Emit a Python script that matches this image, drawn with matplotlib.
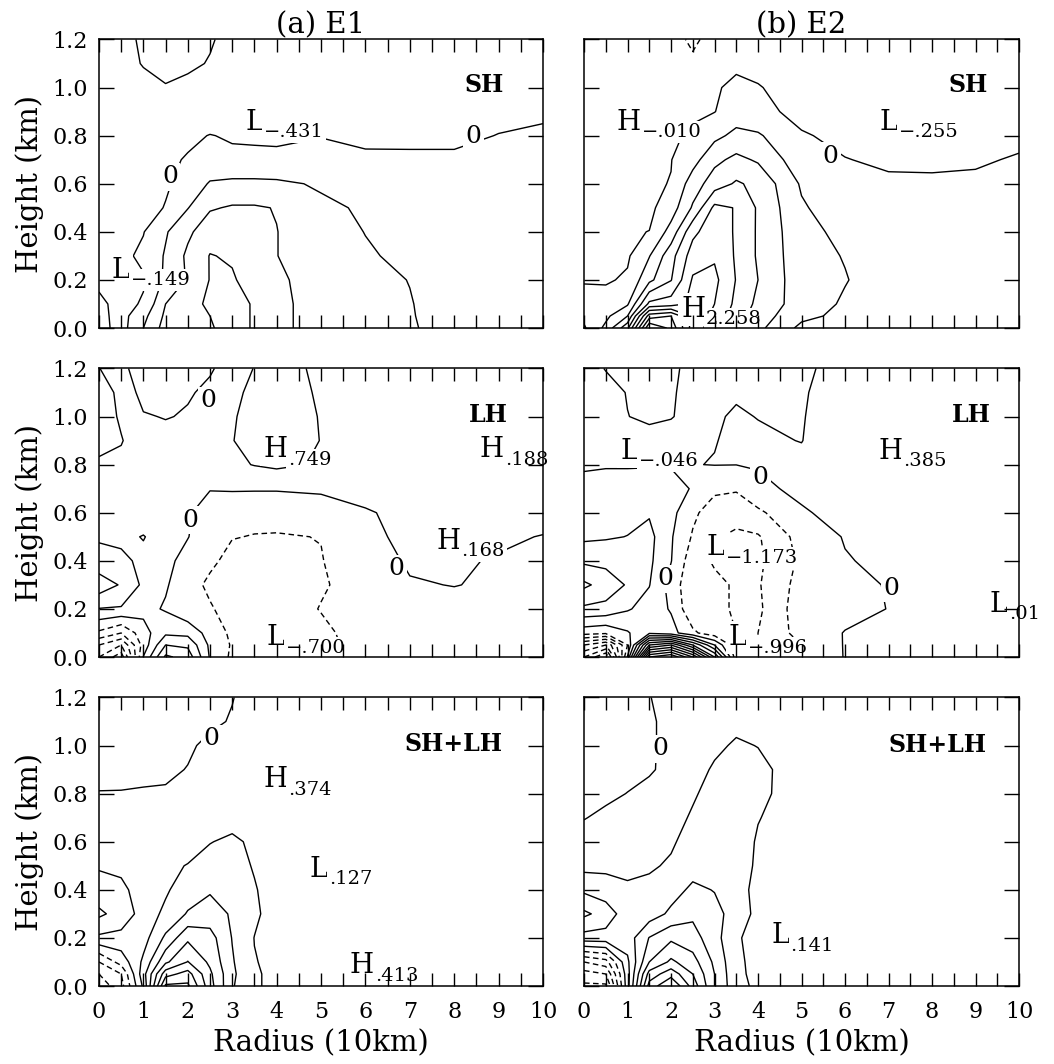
import numpy as np
import matplotlib.pyplot as plt

plt.rcParams['font.family'] = 'DejaVu Serif'

# grid of the model fields (radius in 10 km, height in km)
radius = [0, 0.5, 1, 1.5, 2, 2.5, 3, 3.5, 4, 5, 6, 7, 8, 9, 10]
height = [0, 0.05, 0.1, 0.2, 0.3, 0.4, 0.5, 0.6, 0.7, 0.8, 0.9, 1.0, 1.1, 1.2]

# (a) E1, sensible heating
e1_sh = [
    [0.2, -0.2, 0.5, 1.2, 1.35, 1.45, 1.7, 1.45, 1.15, 0.75, 0.6, 0.55, 0.3, 0.25, 0.2],
    [0.15, -0.18, 0.35, 1.1, 1.38, 1.5, 1.7, 1.45, 1.15, 0.75, 0.6, 0.53, 0.3, 0.25, 0.2],
    [0.1, -0.15, 0.05, 1.0, 1.4, 1.55, 1.7, 1.45, 1.15, 0.75, 0.6, 0.52, 0.3, 0.25, 0.2],
    [-0.1, -0.15, -0.05, 0.6, 1.05, 1.52, 1.55, 1.3, 1.1, 0.75, 0.62, 0.49, 0.3, 0.25, 0.2],
    [-0.2, -0.12, 0.1, 0.55, 1.1, 1.52, 1.45, 1.2, 1.01, 0.7, 0.55, 0.4, 0.3, 0.25, 0.2],
    [-0.25, -0.15, -0.02, 0.45, 0.9, 1.3, 1.3, 1.15, 1.01, 0.7, 0.49, 0.35, 0.28, 0.25, 0.22],
    [-0.3, -0.25, -0.15, 0.02, 0.48, 0.95, 1.05, 1.05, 0.98, 0.58, 0.45, 0.3, 0.25, 0.22, 0.2],
    [-0.35, -0.3, -0.25, -0.05, 0.15, 0.55, 0.6, 0.6, 0.58, 0.45, 0.35, 0.25, 0.2, 0.18, 0.2],
    [-0.38, -0.35, -0.3, -0.12, 0.05, 0.12, 0.12, 0.12, 0.12, 0.1, 0.08, 0.06, 0.06, 0.08, 0.1],
    [-0.35, -0.35, -0.32, -0.25, -0.12, 0.02, -0.06, -0.08, -0.1, -0.01, -0.1, -0.08, -0.08, 0.01, 0.05],
    [-0.3, -0.3, -0.3, -0.3, -0.32, -0.35, -0.4, -0.43, -0.42, -0.35, -0.3, -0.25, -0.2, -0.1, -0.05],
    [-0.25, -0.15, -0.1, -0.02, -0.08, -0.15, -0.35, -0.4, -0.4, -0.35, -0.3, -0.25, -0.2, -0.15, -0.1],
    [-0.2, -0.12, 0.02, 0.1, 0.06, -0.02, -0.2, -0.3, -0.3, -0.3, -0.25, -0.25, -0.2, -0.15, -0.1],
    [-0.2, -0.1, 0.05, 0.15, 0.12, 0.03, -0.1, -0.2, -0.25, -0.25, -0.25, -0.2, -0.2, -0.15, -0.1],
]

# (b) E2, sensible heating
e2_sh = [
    [-0.05, 0.5, 1.5, 4.0, 3.5, 2.2, 1.8, 1.3, 0.9, 0.3, 0.25, 0.15, 0.08, 0.06, 0.08],
    [0.1, 0.3, 0.8, 3.0, 3.2, 2.3, 1.9, 1.4, 1.0, 0.5, 0.3, 0.15, 0.08, 0.06, 0.08],
    [0.1, 0.15, 0.35, 1.7, 1.8, 2.1, 2.0, 1.5, 1.1, 0.6, 0.35, 0.15, 0.08, 0.06, 0.08],
    [-0.02, -0.04, 0.05, 0.7, 1.18, 2.05, 2.1, 1.58, 1.2, 0.55, 0.42, 0.2, 0.08, 0.06, 0.08],
    [-0.08, -0.05, -0.05, 0.38, 1.05, 1.8, 1.95, 1.55, 1.15, 0.55, 0.38, 0.15, 0.07, 0.06, 0.08],
    [-0.1, -0.08, -0.03, 0.005, 0.55, 1.5, 1.85, 1.55, 1.15, 0.52, 0.3, 0.12, 0.06, 0.06, 0.08],
    [-0.1, -0.08, -0.05, -0.08, 0.2, 0.85, 1.7, 1.58, 1.15, 0.45, 0.15, 0.08, 0.05, 0.06, 0.08],
    [-0.1, -0.08, -0.06, -0.04, 0.01, 0.6, 1.0, 1.25, 1.1, 0.35, 0.12, 0.05, 0.05, 0.06, 0.08],
    [-0.08, -0.07, -0.05, -0.03, -0.01, 0.25, 0.7, 0.9, 0.75, 0.15, 0.01, -0.05, -0.06, -0.04, 0.03],
    [-0.06, -0.05, -0.04, -0.03, -0.02, 0.02, 0.3, 0.5, 0.45, 0.03, -0.08, -0.15, -0.2, -0.18, -0.08],
    [-0.04, -0.03, -0.02, -0.015, -0.012, -0.02, -0.01, 0.2, 0.1, -0.1, -0.2, -0.25, -0.25, -0.22, -0.12],
    [-0.05, -0.05, -0.04, -0.03, -0.03, -0.06, -0.03, 0.06, 0.02, -0.15, -0.22, -0.25, -0.25, -0.2, -0.15],
    [-0.08, -0.08, -0.08, -0.08, -0.12, -0.3, -0.1, -0.05, -0.1, -0.2, -0.25, -0.25, -0.25, -0.2, -0.15],
    [-0.1, -0.1, -0.1, -0.1, -0.2, -0.5, -0.2, -0.15, -0.2, -0.25, -0.25, -0.25, -0.25, -0.2, -0.15],
]

# (a) E1, latent heating
e1_lh = [
    [-2.0, -2.8, 0.02, 1.6, 1.3, -0.05, -0.6, -0.7, -0.72, -0.65, -0.3, -0.15, -0.12, -0.12, -0.12],
    [-1.5, -2.0, -0.3, 1.0, 0.9, -0.1, -0.55, -0.7, -0.72, -0.65, -0.3, -0.15, -0.12, -0.12, -0.12],
    [-0.6, -1.0, -0.2, 0.4, 0.35, -0.2, -0.6, -0.75, -0.75, -0.6, -0.3, -0.15, -0.12, -0.12, -0.12],
    [0.48, 0.45, 0.15, -0.05, -0.4, -0.45, -0.7, -0.75, -0.75, -0.48, -0.3, -0.15, -0.12, -0.12, -0.12],
    [1.3, 0.95, 0.4, 0.05, -0.3, -0.6, -0.7, -0.72, -0.72, -0.55, -0.3, -0.03, 0.01, -0.05, -0.08],
    [0.65, 0.6, 0.4, 0.15, -0.2, -0.4, -0.65, -0.7, -0.7, -0.52, -0.2, 0.05, 0.03, -0.02, -0.05],
    [0.45, 0.4, 0.52, 0.3, 0.02, -0.35, -0.48, -0.52, -0.53, -0.49, -0.05, 0.05, 0.05, 0.04, -0.01],
    [0.25, 0.25, 0.25, 0.15, 0.05, -0.2, -0.3, -0.35, -0.35, -0.2, -0.02, 0.06, 0.07, 0.08, 0.1],
    [0.3, 0.3, 0.25, 0.2, 0.15, 0.02, 0.04, 0.04, 0.04, 0.06, 0.08, 0.1, 0.1, 0.12, 0.12],
    [0.45, 0.42, 0.3, 0.25, 0.25, 0.3, 0.4, 0.52, 0.6, 0.45, 0.25, 0.2, 0.15, 0.15, 0.16],
    [0.6, 0.52, 0.3, 0.2, 0.25, 0.3, 0.48, 0.72, 0.75, 0.49, 0.32, 0.25, 0.15, 0.18, 0.19],
    [0.7, 0.45, 0.05, -0.03, 0.05, 0.2, 0.45, 0.68, 0.72, 0.48, 0.3, 0.25, 0.25, 0.3, 0.35],
    [0.7, 0.4, -0.2, -0.15, -0.05, 0.1, 0.35, 0.65, 0.7, 0.45, 0.3, 0.3, 0.3, 0.3, 0.3],
    [0.52, 0.1, -0.2, -0.2, -0.15, -0.05, 0.2, 0.52, 0.6, 0.45, 0.3, 0.3, 0.3, 0.3, 0.3],
]

# (b) E2, latent heating
e2_lh = [
    [-3.0, -4.0, 0.05, 5.5, 6.0, 4.5, 2.0, -0.8, -1.0, -0.6, 0.03, 0.02, 0.02, 0.012, 0.01],
    [-2.0, -2.5, -0.5, 3.0, 3.5, 2.0, 0.5, -0.9, -1.0, -0.5, 0.03, 0.02, 0.02, 0.012, 0.01],
    [-0.3, -0.4, -0.05, 0.4, 0.2, -0.4, -0.8, -1.0, -1.0, -0.3, 0.02, 0.02, 0.02, 0.012, 0.01],
    [0.9, 0.85, 0.55, 0.3, -0.05, -0.9, -0.9, -1.05, -1.1, -0.2, -0.15, 0.01, 0.02, 0.012, 0.01],
    [1.6, 1.3, 0.95, 0.52, -0.2, -0.9, -0.9, -1.05, -1.05, -0.3, -0.1, 0.02, 0.05, 0.03, 0.01],
    [0.9, 0.85, 0.75, 0.6, 0.02, -0.8, -1.05, -1.17, -1.1, -0.4, -0.03, 0.1, 0.15, 0.15, 0.15],
    [0.4, 0.45, 0.51, 0.65, 0.05, -0.55, -0.95, -1.1, -1.05, -0.3, 0.03, 0.2, 0.25, 0.25, 0.25],
    [0.2, 0.3, 0.35, 0.45, 0.15, -0.4, -0.75, -0.8, -0.6, -0.05, 0.15, 0.25, 0.3, 0.3, 0.3],
    [0.05, 0.1, 0.15, 0.2, 0.1, -0.02, -0.4, -0.45, -0.1, 0.1, 0.25, 0.3, 0.35, 0.35, 0.3],
    [-0.02, -0.02, -0.03, -0.03, -0.02, -0.01, 0.01, 0.005, 0.03, 0.05, 0.2, 0.3, 0.38, 0.38, 0.3],
    [-0.05, -0.05, -0.046, -0.04, -0.04, -0.03, -0.01, 0.05, 0.03, -0.005, 0.15, 0.3, 0.38, 0.35, 0.3],
    [-0.05, -0.04, -0.002, 0.02, 0.005, -0.03, -0.02, 0.02, -0.005, -0.01, 0.1, 0.3, 0.35, 0.35, 0.3],
    [-0.05, -0.04, 0.005, 0.04, 0.01, -0.03, -0.04, -0.02, -0.03, -0.02, 0.1, 0.3, 0.35, 0.35, 0.3],
    [-0.05, 0.005, 0.05, 0.06, 0.02, -0.03, -0.04, -0.04, -0.04, -0.03, 0.06, 0.25, 0.3, 0.3, 0.3],
]

# (a) E1, SH+LH
e1_all = [
    [-1.8, -1.2, 0.6, 3.6, 3.6, 2.2, 1.05, 0.55, 0.4, 0.38, 0.413, 0.38, 0.3, 0.3, 0.3],
    [-1.5, -1.0, 0.8, 2.8, 3.2, 2.1, 1.1, 0.55, 0.4, 0.38, 0.41, 0.38, 0.3, 0.3, 0.3],
    [-1.0, -0.3, 0.6, 1.9, 2.52, 1.9, 1.05, 0.52, 0.4, 0.35, 0.4, 0.38, 0.3, 0.3, 0.3],
    [0.4, 0.35, 0.3, 1.1, 1.9, 1.7, 0.98, 0.49, 0.4, 0.35, 0.38, 0.35, 0.3, 0.3, 0.3],
    [1.1, 0.8, 0.3, 0.58, 1.05, 1.2, 0.95, 0.6, 0.25, 0.2, 0.25, 0.25, 0.25, 0.25, 0.25],
    [0.7, 0.6, 0.3, 0.45, 0.7, 0.95, 0.9, 0.55, 0.2, 0.13, 0.2, 0.2, 0.2, 0.2, 0.2],
    [0.45, 0.4, 0.3, 0.4, 0.52, 0.7, 0.75, 0.45, 0.25, 0.13, 0.2, 0.2, 0.2, 0.2, 0.2],
    [0.2, 0.2, 0.2, 0.25, 0.3, 0.48, 0.6, 0.4, 0.3, 0.2, 0.2, 0.2, 0.2, 0.2, 0.2],
    [0.1, 0.1, 0.12, 0.15, 0.2, 0.25, 0.3, 0.3, 0.3, 0.25, 0.25, 0.25, 0.25, 0.25, 0.25],
    [0.02, 0.02, 0.03, 0.03, 0.08, 0.15, 0.25, 0.3, 0.35, 0.35, 0.3, 0.28, 0.28, 0.28, 0.28],
    [-0.15, -0.12, -0.08, -0.05, 0.01, 0.1, 0.2, 0.3, 0.35, 0.37, 0.33, 0.3, 0.3, 0.3, 0.3],
    [-0.2, -0.18, -0.15, -0.1, -0.04, 0.06, 0.15, 0.25, 0.3, 0.33, 0.3, 0.3, 0.3, 0.3, 0.3],
    [-0.2, -0.2, -0.18, -0.15, -0.1, -0.05, 0.02, 0.15, 0.25, 0.32, 0.3, 0.3, 0.3, 0.3, 0.3],
    [-0.2, -0.2, -0.2, -0.15, -0.1, -0.05, -0.01, 0.1, 0.2, 0.3, 0.3, 0.3, 0.3, 0.3, 0.3],
]

# (b) E2, SH+LH
e2_all = [
    [-2.6, -2.6, 0.3, 3.2, 4.0, 2.8, 1.5, 0.65, 0.4, 0.16, 0.15, 0.15, 0.15, 0.15, 0.15],
    [-2.2, -2.0, 0.3, 2.7, 3.3, 2.5, 1.5, 0.6, 0.38, 0.15, 0.15, 0.15, 0.15, 0.15, 0.15],
    [-1.5, -1.2, 0.4, 2.0, 2.6, 2.2, 1.4, 0.6, 0.35, 0.15, 0.14, 0.15, 0.15, 0.15, 0.15],
    [0.8, 0.8, 0.75, 1.52, 1.9, 1.7, 1.2, 0.55, 0.35, 0.15, 0.14, 0.15, 0.15, 0.15, 0.15],
    [1.6, 1.3, 0.7, 0.75, 1.1, 1.4, 1.15, 0.8, 0.35, 0.15, 0.14, 0.15, 0.15, 0.15, 0.15],
    [0.9, 0.7, 0.55, 0.6, 0.8, 1.1, 0.98, 0.7, 0.35, 0.16, 0.15, 0.15, 0.15, 0.15, 0.15],
    [0.35, 0.4, 0.42, 0.45, 0.55, 0.8, 0.9, 0.8, 0.4, 0.2, 0.16, 0.16, 0.16, 0.16, 0.16],
    [0.1, 0.2, 0.3, 0.35, 0.45, 0.65, 0.8, 0.75, 0.45, 0.22, 0.18, 0.18, 0.18, 0.18, 0.18],
    [-0.01, 0.05, 0.12, 0.2, 0.35, 0.55, 0.75, 0.8, 0.52, 0.25, 0.2, 0.2, 0.2, 0.2, 0.2],
    [-0.1, -0.05, 0.005, 0.1, 0.25, 0.45, 0.65, 0.75, 0.6, 0.28, 0.22, 0.2, 0.2, 0.2, 0.2],
    [-0.15, -0.1, -0.07, -0.04, 0.1, 0.35, 0.55, 0.7, 0.6, 0.3, 0.25, 0.2, 0.2, 0.2, 0.2],
    [-0.2, -0.15, -0.1, -0.04, 0.08, 0.3, 0.42, 0.55, 0.49, 0.3, 0.25, 0.2, 0.2, 0.2, 0.2],
    [-0.2, -0.15, -0.1, -0.05, 0.1, 0.25, 0.35, 0.4, 0.38, 0.25, 0.2, 0.2, 0.2, 0.2, 0.2],
    [-0.2, -0.15, -0.1, -0.01, 0.1, 0.2, 0.25, 0.3, 0.3, 0.25, 0.2, 0.2, 0.2, 0.2, 0.2],
]

# contour levels of each panel
levels_e1_sh = [0, 0.5, 1.0, 1.5, 2.0]
levels_e2_sh = [-0.4, 0, 0.4, 0.8, 1.2, 1.6, 2.0, 2.4, 2.8, 3.2, 3.6]
levels_e1_lh = [-3.0, -2.5, -2.0, -1.5, -1.0, -0.5, 0, 0.5, 1.0, 1.5]
levels_e2_lh = list(np.arange(-4.0, 6.01, 0.5))
levels_e1_all = [-2.0, -1.5, -1.0, -0.5, 0, 0.5, 1.0, 1.5, 2.0, 2.5, 3.0, 3.5]
levels_e2_all = [-2.5, -2.0, -1.5, -1.0, -0.5, 0, 0.5, 1.0, 1.5, 2.0, 2.5, 3.0, 3.5]

# extremum labels: letter, value, radius, height
marks_e1_sh = [('L', '-.431', 3.29, 0.825), ('L', '-.149', 0.29, 0.21)]
marks_e2_sh = [('H', '-.010', 0.75, 0.825), ('L', '-.255', 6.8, 0.825), ('H', '2.258', 2.23, 0.047)]
marks_e1_lh = [('H', '.749', 3.7, 0.831), ('H', '.188', 8.58, 0.831),
               ('H', '.168', 7.6, 0.45), ('L', '-.700', 3.78, 0.049)]
marks_e2_lh = [('L', '-.046', 0.83, 0.824), ('H', '.385', 6.77, 0.824), ('L', '-1.173', 2.82, 0.423),
               ('L', '-.996', 3.32, 0.05), ('L', '.01', 9.33, 0.188)]
marks_e1_all = [('H', '.374', 3.7, 0.827), ('L', '.127', 4.75, 0.454), ('H', '.413', 5.65, 0.053)]
marks_e2_all = [('L', '.141', 4.31, 0.177)]

# zero-line labels
zeros_e1_sh = [(1.6, 0.63), (8.43, 0.797)]
zeros_e2_sh = [(5.66, 0.714)]
zeros_e1_lh = [(2.46, 1.066), (2.05, 0.568), (6.7, 0.368)]
zeros_e2_lh = [(4.05, 0.748), (1.86, 0.326), (7.07, 0.285)]
zeros_e1_all = [(2.54, 1.028)]
zeros_e2_all = [(1.75, 0.986)]

panels = [
    [(e1_sh, levels_e1_sh, marks_e1_sh, zeros_e1_sh, 'SH', (8.24, 0.98)),
     (e2_sh, levels_e2_sh, marks_e2_sh, zeros_e2_sh, 'SH', (8.37, 0.98))],
    [(e1_lh, levels_e1_lh, marks_e1_lh, zeros_e1_lh, 'LH', (8.32, 0.977)),
     (e2_lh, levels_e2_lh, marks_e2_lh, zeros_e2_lh, 'LH', (8.45, 0.976))],
    [(e1_all, levels_e1_all, marks_e1_all, zeros_e1_all, 'SH+LH', (6.89, 0.979)),
     (e2_all, levels_e2_all, marks_e2_all, zeros_e2_all, 'SH+LH', (7.0, 0.973))],
]

col_x = [0.0939, 0.5541]
col_w = [0.4213, 0.4127]
row_y = [0.6917, 0.3825, 0.0733]
row_h = 0.2712

box = dict(boxstyle='square,pad=0.1', fc='white', ec='none')

fig = plt.figure(figsize=(10.54, 10.64), dpi=100)

for i in range(3):
    for j in range(2):
        field, levels, marks, zeros, tag, tagpos = panels[i][j]
        ax = fig.add_axes([col_x[j], row_y[i], col_w[j], row_h])
        ax.set_axisbelow(False)
        styles = [(0, (4, 2.5)) if lev < 0 else 'solid' for lev in levels]
        ax.contour(radius, height, np.array(field), levels=levels, colors='black',
                   linewidths=1.0, linestyles=styles)

        # H / L letter with its value written as a subscript right after it
        for letter, val, r, z in marks:
            t = ax.text(r, z, letter, fontsize=20, ha='left', va='baseline',
                        bbox=box, zorder=2.2)
            ax.annotate(val.replace('-', '\u2212'), xy=(1, 0), xycoords=t,
                        xytext=(0.5, -4), textcoords='offset points',
                        fontsize=14, ha='left', va='bottom', bbox=box, zorder=2.2)
        for r, z in zeros:
            ax.text(r, z, '0', fontsize=18, ha='center', va='center',
                    bbox=box, zorder=2.2)
        ax.text(tagpos[0], tagpos[1], tag, fontsize=17, fontweight='bold',
                ha='left', va='baseline', zorder=2.2)

        ax.set_xlim(0, 10)
        ax.set_ylim(0, 1.2)
        ax.set_xticks(range(11))
        ax.set_xticks(np.arange(0.5, 10, 1), minor=True)
        ax.set_yticks(np.arange(0, 1.21, 0.2))
        ax.tick_params(which='both', direction='in', top=True, right=True, width=1.0)
        ax.tick_params(axis='x', which='both', length=9.5, pad=11, labelsize=16)
        ax.tick_params(axis='y', length=11, pad=8, labelsize=16)
        for sp in ax.spines.values():
            sp.set_linewidth(1.1)

        if j == 0:
            ax.set_yticklabels(['%.1f' % v for v in np.arange(0, 1.21, 0.2)])
            ax.set_ylabel('Height (km)', fontsize=21, labelpad=6)
        else:
            ax.set_yticklabels([])
        if i == 2:
            ax.set_xlabel('Radius (10km)', fontsize=21, labelpad=4)
        else:
            ax.set_xticklabels([])
        if i == 0:
            ax.set_title(['(a) E1', '(b) E2'][j], fontsize=21, pad=2)

fig.savefig('out.png', dpi=100)
